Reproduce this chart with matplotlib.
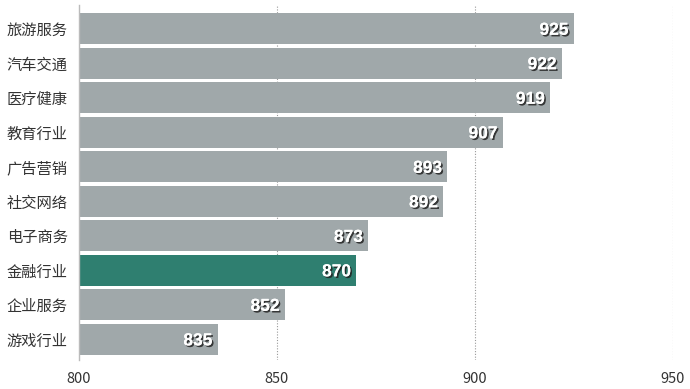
import matplotlib.pyplot as plt
import matplotlib.patheffects as pe

plt.rcParams['font.family'] = ['Noto Sans CJK SC', 'DejaVu Sans']

industries = ['旅游服务', '汽车交通', '医疗健康', '教育行业', '广告营销',
              '社交网络', '电子商务', '金融行业', '企业服务', '游戏行业']
scores = [925, 922, 919, 907, 893, 892, 873, 870, 852, 835]
highlight = '金融行业'

grey = '#a0a8aa'
green = '#2f7f70'
colors = [green if name == highlight else grey for name in industries]

fig = plt.figure(figsize=(6.9, 3.89), dpi=100)
ax = fig.add_axes([0.1145, 0.075, 0.8605, 0.912])

ypos = list(range(len(industries)))
ax.barh(ypos, [s - 800 for s in scores], left=800, height=0.9, color=colors, zorder=2)

shadow = [pe.withSimplePatchShadow(offset=(1.2, -1.2), shadow_rgbFace='#222222', alpha=0.85), pe.Normal()]
for y, s in zip(ypos, scores):
    ax.text(s - 1.3, y + 0.05, str(s), ha='right', va='center', color='white',
            fontsize=12.5, fontweight='bold', family='Liberation Sans', path_effects=shadow, zorder=3)

ax.set_xlim(800, 950)
ax.set_ylim(9.6, -0.68)
ax.set_xticks([800, 850, 900, 950])
ax.set_yticks(ypos)
ax.set_yticklabels(industries, fontsize=11, color='#333333')
ax.tick_params(axis='both', length=0, pad=8, labelcolor='#333333')
ax.tick_params(axis='x', labelsize=10.5, pad=9)

for x in [850, 900, 950]:
    ax.axvline(x, color='#999999', linestyle=(0, (1, 1.5)), linewidth=0.8, zorder=1)

for side in ['top', 'right', 'bottom']:
    ax.spines[side].set_visible(False)
ax.spines['left'].set_color('#bbbbbb')
ax.spines['left'].set_linewidth(1.0)

fig.savefig('out.png', dpi=100)
